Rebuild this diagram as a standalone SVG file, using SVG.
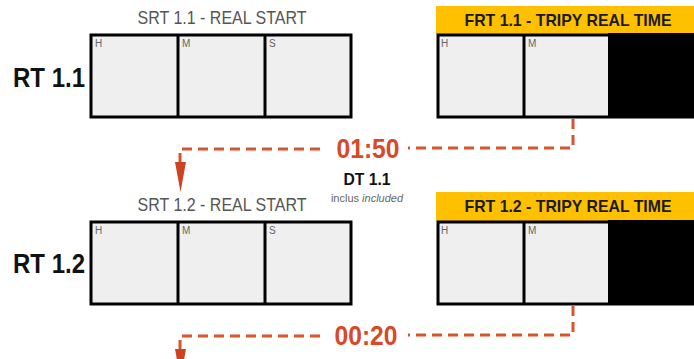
<svg xmlns="http://www.w3.org/2000/svg" width="694" height="359" viewBox="0 0 694 359">
<style>
.cell{fill:#efefef;stroke:#000;stroke-width:3}
.div{stroke:#000;stroke-width:3}
.lbl{font-family:"Liberation Sans",Arial,sans-serif;font-size:10px;fill:#666}
.title{font-family:"Liberation Sans",Arial,sans-serif;font-size:18px;fill:#555;text-anchor:middle}
.hdr{font-family:"Liberation Sans",Arial,sans-serif;font-size:17px;font-weight:bold;fill:#1a1a1a;text-anchor:middle}
.rt{font-family:"Liberation Sans",Arial,sans-serif;font-size:27px;font-weight:bold;fill:#111}
.yel{fill:#ffc000}
.dash{fill:none;stroke:#d9532b;stroke-width:3;stroke-dasharray:10 6}
.dur{font-family:"Liberation Sans",Arial,sans-serif;font-size:28px;font-weight:bold;fill:#d64a27;text-anchor:middle}
.dt{font-family:"Liberation Sans",Arial,sans-serif;font-size:17px;font-weight:bold;fill:#111;text-anchor:middle}
.inc{font-family:"Liberation Sans",Arial,sans-serif;font-size:11px;fill:#666;text-anchor:middle}
</style>
<defs>
<g id="srtBox">
<rect class="cell" x="91" y="35" width="260" height="82"/>
<line class="div" x1="178" y1="35" x2="178" y2="117"/>
<line class="div" x1="265" y1="35" x2="265" y2="117"/>
<text class="lbl" x="95" y="47">H</text>
<text class="lbl" x="182" y="47">M</text>
<text class="lbl" x="269" y="47">S</text>
</g>
<g id="frtBox">
<rect class="cell" x="438" y="35" width="258" height="82"/>
<rect x="608" y="33" width="86" height="85" fill="#000"/>
<line class="div" x1="524" y1="35" x2="524" y2="117"/>
<text class="lbl" x="441" y="47">H</text>
<text class="lbl" x="528" y="47">M</text>
</g>
</defs>

<g id="rt11">
<text class="rt" x="13" y="87" textLength="72" lengthAdjust="spacingAndGlyphs">RT 1.1</text>
</g>
<g id="srt11">
<text class="title" x="222" y="24" textLength="169" lengthAdjust="spacingAndGlyphs">SRT 1.1 - REAL START</text>
<use href="#srtBox"/>
</g>
<g id="frt11">
<rect class="yel" x="436" y="6" width="258" height="28"/>
<text class="hdr" x="568" y="26" textLength="207" lengthAdjust="spacingAndGlyphs">FRT 1.1 - TRIPY REAL TIME</text>
<use href="#frtBox"/>
</g>

<g id="dt11">
<text class="dur" x="368" y="158" textLength="63" lengthAdjust="spacingAndGlyphs">01:50</text>
<text class="dt" x="367" y="185" textLength="47" lengthAdjust="spacingAndGlyphs">DT 1.1</text>
<text class="inc" x="367" y="202">inclus <tspan font-style="italic">included</tspan></text>
</g>

<g id="rt12">
<text class="rt" x="13" y="273" textLength="72" lengthAdjust="spacingAndGlyphs">RT 1.2</text>
</g>
<g id="srt12">
<text class="title" x="222" y="211" textLength="169" lengthAdjust="spacingAndGlyphs">SRT 1.2 - REAL START</text>
<use href="#srtBox" transform="translate(0,187)"/>
</g>
<g id="frt12">
<rect class="yel" x="436" y="192" width="258" height="29"/>
<text class="hdr" x="568" y="212" textLength="207" lengthAdjust="spacingAndGlyphs">FRT 1.2 - TRIPY REAL TIME</text>
<use href="#frtBox" transform="translate(0,187)"/>
</g>

<g id="dt12">
<text class="dur" x="366" y="345" textLength="63" lengthAdjust="spacingAndGlyphs">00:20</text>
</g>

<g id="connectors">
<path class="dash" d="M573,119 V148 H408"/>
<path class="dash" d="M180,163 V149 H323"/>
<polygon points="175,162 186,162 180.5,192" fill="#cc4320"/>
<path class="dash" d="M573,306 V335 H408"/>
<path class="dash" d="M180,350 V336 H323"/>
<polygon points="175,349 186,349 180.5,379" fill="#cc4320"/>
</g>
</svg>
